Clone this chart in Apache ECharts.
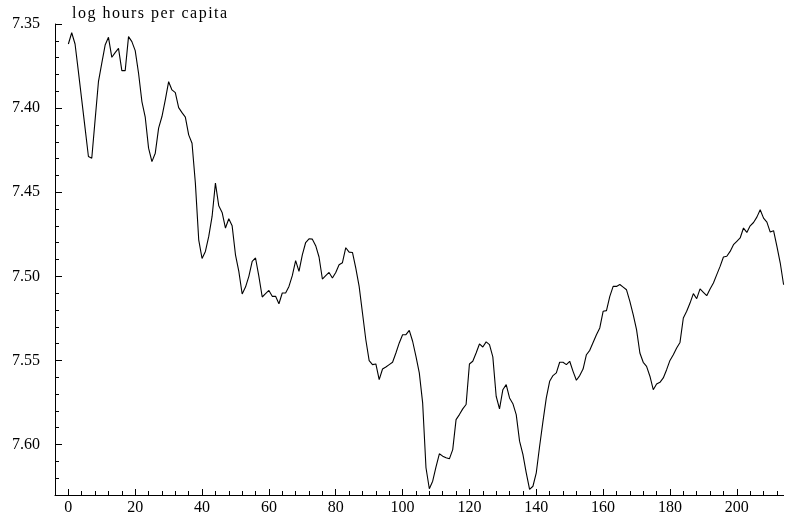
<!DOCTYPE html>
<html>
<head>
<meta charset="utf-8">
<script src="https://cdn.jsdelivr.net/npm/echarts@6/dist/echarts.min.js"></script>
<style>
  html, body { margin: 0; padding: 0; background: #fff; }
  #chart { width: 785px; height: 521px; }
</style>
</head>
<body>
<div id="chart"></div>
<script>
// Quarterly log hours per capita, one value per period starting at 0
const hours = [
  7.3619, 7.3552, 7.3619, 7.3783, 7.3951, 7.4119, 7.4288, 7.4298, 7.4070, 7.3843,
  7.3733, 7.3625, 7.3579, 7.3698, 7.3670, 7.3645, 7.3777, 7.3777, 7.3575, 7.3605,
  7.3658, 7.3793, 7.3961, 7.4054, 7.4238, 7.4318, 7.4268, 7.4119, 7.4050, 7.3951,
  7.3843, 7.3892, 7.3908, 7.3997, 7.4027, 7.4054, 7.4159, 7.4209, 7.4446, 7.4783,
  7.4894, 7.4852, 7.4763, 7.4644, 7.4446, 7.4581, 7.4620, 7.4713, 7.4658, 7.4700,
  7.4872, 7.4971, 7.5105, 7.5064, 7.5000, 7.4911, 7.4891, 7.5000, 7.5123, 7.5103,
  7.5084, 7.5119, 7.5119, 7.5163, 7.5099, 7.5099, 7.5060, 7.4996, 7.4907, 7.4971,
  7.4872, 7.4799, 7.4777, 7.4779, 7.4818, 7.4885, 7.5016, 7.4996, 7.4977, 7.5010,
  7.4977, 7.4931, 7.4919, 7.4830, 7.4856, 7.4858, 7.4951, 7.5060, 7.5218, 7.5377,
  7.5501, 7.5525, 7.5521, 7.5614, 7.5551, 7.5539, 7.5525, 7.5511, 7.5456, 7.5396,
  7.5347, 7.5347, 7.5321, 7.5386, 7.5476, 7.5574, 7.5752, 7.6138, 7.6263, 7.6218,
  7.6133, 7.6055, 7.6069, 7.6079, 7.6085, 7.6030, 7.5852, 7.5822, 7.5788, 7.5762,
  7.5521, 7.5505, 7.5456, 7.5402, 7.5420, 7.5390, 7.5406, 7.5479, 7.5713, 7.5788,
  7.5674, 7.5644, 7.5723, 7.5757, 7.5822, 7.5980, 7.6059, 7.6168, 7.6267, 7.6248,
  7.6168, 7.6010, 7.5862, 7.5723, 7.5624, 7.5590, 7.5574, 7.5511, 7.5511, 7.5525,
  7.5505, 7.5565, 7.5618, 7.5590, 7.5551, 7.5466, 7.5440, 7.5393, 7.5347, 7.5307,
  7.5208, 7.5204, 7.5119, 7.5060, 7.5060, 7.5049, 7.5064, 7.5080, 7.5149, 7.5228,
  7.5317, 7.5456, 7.5511, 7.5535, 7.5594, 7.5674, 7.5640, 7.5630, 7.5604, 7.5555,
  7.5500, 7.5466, 7.5426, 7.5393, 7.5248, 7.5208, 7.5159, 7.5103, 7.5133, 7.5075,
  7.5095, 7.5115, 7.5075, 7.5040, 7.4990, 7.4941, 7.4885, 7.4881, 7.4852, 7.4812,
  7.4792, 7.4772, 7.4713, 7.4739, 7.4700, 7.4680, 7.4648, 7.4604, 7.4654, 7.4678,
  7.4737, 7.4729, 7.4822, 7.4921, 7.5050
];

// Labelled ticks
const xLabelTicks = [0, 20, 40, 60, 80, 100, 120, 140, 160, 180, 200];
const yLabelTicks = [7.35, 7.40, 7.45, 7.50, 7.55, 7.60];
// Small ticks between the labelled ones
const xMinorTicks = [
  0, 4, 8, 12, 16, 20, 24, 28, 32, 36, 40, 44, 48, 52, 56, 60, 64, 68, 72, 76,
  80, 84, 88, 92, 96, 100, 104, 108, 112, 116, 120, 124, 128, 132, 136, 140,
  144, 148, 152, 156, 160, 164, 168, 172, 176, 180, 184, 188, 192, 196, 200,
  204, 208, 212
];
const yMinorTicks = [
  7.35, 7.36, 7.37, 7.38, 7.39, 7.40, 7.41, 7.42, 7.43, 7.44, 7.45, 7.46, 7.47,
  7.48, 7.49, 7.50, 7.51, 7.52, 7.53, 7.54, 7.55, 7.56, 7.57, 7.58, 7.59, 7.60,
  7.61, 7.62
];

const titleText = 'log hours per capita';

// The caption is set with a little extra space between letters.
const plainFillText = CanvasRenderingContext2D.prototype.fillText;
CanvasRenderingContext2D.prototype.fillText = function (text, x, y, maxWidth) {
  if (text === titleText && 'letterSpacing' in this) {
    const prev = this.letterSpacing;
    this.letterSpacing = '1.5px';
    const r = maxWidth === undefined ? plainFillText.call(this, text, x, y)
                                     : plainFillText.call(this, text, x, y, maxWidth);
    this.letterSpacing = prev;
    return r;
  }
  return plainFillText.apply(this, arguments);
};

const serif = "'Liberation Serif', serif";
const ink = '#000';

const X_MIN = -4, X_MAX = 214;
const Y_MIN = 7.35, Y_MAX = 7.63;

const chart = echarts.init(document.getElementById('chart'), null, { renderer: 'canvas' });

const baseX = {
  type: 'value', min: X_MIN, max: X_MAX, position: 'bottom',
  splitLine: { show: false }
};
const baseY = {
  type: 'value', min: Y_MIN, max: Y_MAX, inverse: true, position: 'left',
  splitLine: { show: false }
};

chart.setOption({
  animation: false,
  backgroundColor: '#fff',
  title: {
    text: titleText,
    left: 72,
    top: 6,
    padding: 0,
    textStyle: {
      fontFamily: serif,
      fontSize: 16,
      fontWeight: 'normal',
      color: ink
    }
  },
  grid: { left: 55, right: 1.4, top: 24, bottom: 26 },
  xAxis: [
    Object.assign({}, baseX, {
      axisLine: { show: true, onZero: false, lineStyle: { color: ink, width: 1 } },
      axisTick: { show: true, inside: true, length: 6, customValues: xLabelTicks, lineStyle: { color: ink } },
      axisLabel: {
        show: true, customValues: xLabelTicks, margin: 5,
        fontFamily: serif, fontSize: 16, color: ink
      }
    }),
    Object.assign({}, baseX, {
      axisLine: { show: false, onZero: false },
      axisTick: { show: true, inside: true, length: 4, customValues: xMinorTicks, lineStyle: { color: ink } },
      axisLabel: { show: false }
    })
  ],
  yAxis: [
    Object.assign({}, baseY, {
      axisLine: { show: true, onZero: false, lineStyle: { color: ink, width: 1 } },
      axisTick: { show: true, inside: true, length: 7, customValues: yLabelTicks, lineStyle: { color: ink } },
      axisLabel: {
        show: true, customValues: yLabelTicks, margin: 15,
        fontFamily: serif, fontSize: 16, color: ink,
        formatter: v => v.toFixed(2)
      }
    }),
    Object.assign({}, baseY, {
      axisLine: { show: false, onZero: false },
      axisTick: { show: true, inside: true, length: 4, customValues: yMinorTicks, lineStyle: { color: ink } },
      axisLabel: { show: false }
    })
  ],
  series: [{
    type: 'line',
    xAxisIndex: 0,
    yAxisIndex: 0,
    data: hours.map((v, i) => [i, v]),
    showSymbol: false,
    symbol: 'none',
    silent: true,
    lineStyle: { color: ink, width: 1.1 }
  }]
});
</script>
</body>
</html>
